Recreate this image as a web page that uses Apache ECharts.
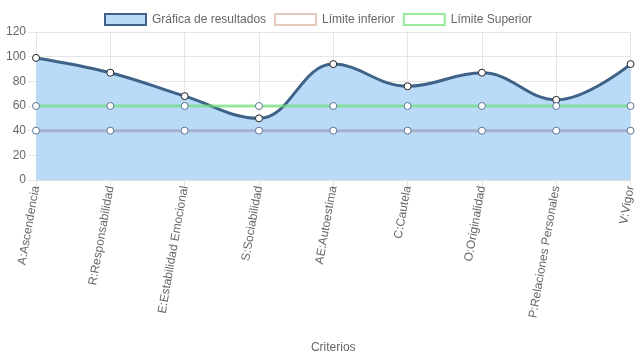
<!DOCTYPE html>
<html><head><meta charset="utf-8">
<script src="https://cdn.jsdelivr.net/npm/echarts@6/dist/echarts.min.js"></script>
<style>html,body{margin:0;padding:0;background:#fff}#c{width:637px;height:359px}</style>
</head><body><div id="c"></div>
<script>
const categories = ["A:Ascendencia","R:Responsabilidad","E:Estabilidad Emocional","S:Sociabilidad","AE:Autoestima","C:Cautela","O:Originalidad","P:Relaciones Personales","V:Vigor"];
const resultados = [99, 87, 68, 50, 94, 76, 87, 65, 94];
const limiteInferior = [40, 40, 40, 40, 40, 40, 40, 40, 40];
const limiteSuperior = [60, 60, 60, 60, 60, 60, 60, 60, 60];
const yTicks = [0, 20, 40, 60, 80, 100, 120];

const chart = echarts.init(document.getElementById('c'), null, {renderer: 'canvas'});
const font = 'Liberation Sans, Arial, Helvetica, sans-serif';
chart.setOption({
  animation: false,
  textStyle: {fontFamily: font},
  legend: {
    top: 8, left: 99,
    itemWidth: 41, itemHeight: 11, itemGap: 8,
    icon: 'rect',
    textStyle: {color: '#666', fontSize: 12, fontFamily: font, padding: [0, 0, 0, 1]},
    data: [
      {name: 'Gráfica de resultados', itemStyle: {color: '#b9dbf7', borderColor: '#3f6388', borderWidth: 2}},
      {name: 'Límite inferior', itemStyle: {color: '#ffffff', borderColor: '#e6cbbd', borderWidth: 2}},
      {name: 'Límite Superior', itemStyle: {color: '#ffffff', borderColor: '#99eb99', borderWidth: 2}}
    ]
  },
  grid: {left: 36, right: 4, top: 32, bottom: 179, containLabel: false},
  xAxis: {
    type: 'category', data: categories, boundaryGap: false,
    name: 'Criterios', nameLocation: 'middle', nameGap: 162,
    nameTextStyle: {color: '#666', fontSize: 12, fontFamily: font},
    axisLine: {show: true, lineStyle: {color: '#dddddd'}},
    axisTick: {show: true, length: 8, alignWithLabel: true, lineStyle: {color: '#e6e6e6'}},
    axisLabel: {rotate: 80, color: '#666', fontSize: 12, margin: 6, fontFamily: font, interval: 0},
    splitLine: {show: true, lineStyle: {color: '#e6e6e6'}}
  },
  yAxis: {
    type: 'value', min: yTicks[0], max: yTicks[yTicks.length - 1], interval: 20,
    axisLine: {show: false},
    axisTick: {show: true, length: 8, lineStyle: {color: '#e6e6e6'}},
    axisLabel: {color: '#666', fontSize: 12, margin: 10, fontFamily: font},
    splitLine: {show: true, lineStyle: {color: '#e6e6e6'}}
  },
  series: [
    {
      name: 'Gráfica de resultados', type: 'line', data: resultados, smooth: 0.4, z: 3,
      symbol: 'circle', symbolSize: 7,
      lineStyle: {color: '#3f6388', width: 3},
      itemStyle: {color: '#ffffff', borderColor: '#222222', borderWidth: 1},
      areaStyle: {color: '#b9dbf7', opacity: 1, origin: 'start'}
    },
    {
      name: 'Límite inferior', type: 'line', data: limiteInferior, z: 4,
      symbol: 'circle', symbolSize: 7,
      lineStyle: {color: 'rgba(150,140,165,0.55)', width: 3},
      itemStyle: {color: '#ffffff', borderColor: '#5f7593', borderWidth: 1}
    },
    {
      name: 'Límite Superior', type: 'line', data: limiteSuperior, z: 4,
      symbol: 'circle', symbolSize: 7,
      lineStyle: {color: 'rgba(110,225,120,0.7)', width: 3},
      itemStyle: {color: '#ffffff', borderColor: '#5f7593', borderWidth: 1}
    }
  ]
});
</script></body></html>
